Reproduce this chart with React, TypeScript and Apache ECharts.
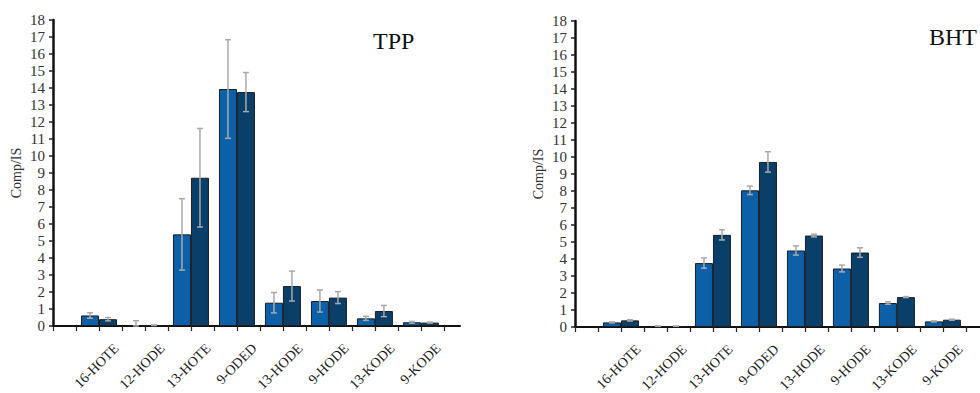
import React, { useEffect, useRef } from "react";
import * as echarts from "echarts";

const categories = ["16-HOTE", "12-HODE", "13-HOTE", "9-ODED", "13-HODE", "9-HODE", "13-KODE", "9-KODE"];
const yTickValues = [0, 18, 1];

const tppLight = [0.62, 0.05, 5.39, 13.94, 1.37, 1.47, 0.45, 0.22];
const tppLightErr = [0.16, 0.26, 2.1, 2.9, 0.6, 0.65, 0.12, 0.05];
const tppDark = [0.4, 0.05, 8.72, 13.76, 2.35, 1.67, 0.88, 0.2];
const tppDarkErr = [0.1, 0.02, 2.9, 1.15, 0.88, 0.35, 0.33, 0.03];

const bhtLight = [0.27, 0.05, 3.76, 8.04, 4.5, 3.44, 1.41, 0.33];
const bhtLightErr = [0.03, 0.01, 0.3, 0.25, 0.27, 0.2, 0.07, 0.03];
const bhtDark = [0.39, 0.05, 5.42, 9.71, 5.38, 4.38, 1.76, 0.43];
const bhtDarkErr = [0.04, 0.01, 0.3, 0.6, 0.08, 0.28, 0.03, 0.03];

const panelTitles = ["TPP", "BHT"];

const LIGHT = "#0b60a8";
const DARK = "#0a3f6a";
const SERIF = "'Liberation Serif', 'DejaVu Serif', serif";
const LABEL_SHIFT = 0.38;

const xPositions = categories.map((_, i) => i + 1);

function makeXAxis(gridIndex: number) {
  const tickVals: number[] = [];
  for (let v = 0; v <= 8.5; v += 0.5) tickVals.push(v);
  return {
    type: "value",
    gridIndex,
    min: 0,
    max: 8.85,
    interval: 1,
    axisLine: { show: true, onZero: false, lineStyle: { color: "#111", width: 2 } },
    axisTick: { show: true, length: 5, customValues: tickVals, lineStyle: { color: "#222", width: 1.2 } },
    splitLine: { show: false },
    axisLabel: {
      show: true,
      customValues: xPositions.map((p) => p + LABEL_SHIFT),
      rotate: 45,
      margin: 20,
      fontSize: 14,
      fontFamily: SERIF,
      color: "#1a1a1a",
      formatter: (v: number) => {
        const i = Math.round(v - LABEL_SHIFT) - 1;
        return categories[i] ?? "";
      },
    },
  };
}

function makeYAxis(gridIndex: number) {
  return {
    type: "value",
    gridIndex,
    min: yTickValues[0],
    max: yTickValues[1],
    interval: yTickValues[2],
    name: "Comp/IS",
    nameLocation: "middle",
    nameGap: 30,
    nameTextStyle: { fontSize: 14, fontFamily: SERIF, color: "#333" },
    axisLine: { show: true, lineStyle: { color: "#111", width: 2.5 } },
    axisTick: { show: true, length: 4, lineStyle: { color: "#222", width: 1.5 } },
    splitLine: { show: false },
    axisLabel: { fontSize: 15, fontFamily: SERIF, color: "#333", margin: 8 },
  };
}

function barSeries(idx: number, values: number[], color: string) {
  return {
    type: "bar",
    xAxisIndex: idx,
    yAxisIndex: idx,
    data: values.map((v, i) => [xPositions[i], v]),
    barWidth: 18,
    barGap: "0%",
    itemStyle: { color, borderColor: "#1a1f26", borderWidth: 1 },
    z: 2,
  };
}

function errSeries(idx: number, values: number[], errs: number[], offset: number) {
  return {
    type: "custom",
    xAxisIndex: idx,
    yAxisIndex: idx,
    z: 5,
    data: values.map((v, i) => [xPositions[i], v, errs[i], offset]),
    renderItem: (_params: any, api: any) => {
      const x = api.value(0);
      const y = api.value(1);
      const e = api.value(2);
      const off = api.value(3);
      const top = api.coord([x, y + e]);
      const bot = api.coord([x, Math.max(0, y - e)]);
      const cx = top[0] + off;
      const cap = 3;
      const style = { stroke: "#a9a9a9", lineWidth: 1.5 };
      return {
        type: "group",
        children: [
          { type: "line", shape: { x1: cx, y1: top[1], x2: cx, y2: bot[1] }, style },
          { type: "line", shape: { x1: cx - cap, y1: top[1], x2: cx + cap, y2: top[1] }, style },
          { type: "line", shape: { x1: cx - cap, y1: bot[1], x2: cx + cap, y2: bot[1] }, style },
        ],
      };
    },
  };
}

export default function App() {
  const ref = useRef<HTMLDivElement>(null);
  useEffect(() => {
    if (!ref.current) return;
    const chart = echarts.init(ref.current, null, { renderer: "svg" });
    chart.setOption({
      animation: false,
      backgroundColor: "#ffffff",
      title: [
        { text: panelTitles[0], left: 368, top: 24, textStyle: { fontFamily: SERIF, fontSize: 24, fontWeight: "normal", color: "#111" } },
        { text: panelTitles[1], left: 924, top: 20, textStyle: { fontFamily: SERIF, fontSize: 24, fontWeight: "normal", color: "#111" } },
      ],
      grid: [
        { left: 53, top: 20, width: 407, height: 306, outerBoundsMode: "none", containLabel: false },
        { left: 575, top: 21, width: 407, height: 306, outerBoundsMode: "none", containLabel: false },
      ],
      xAxis: [makeXAxis(0), makeXAxis(1)],
      yAxis: [makeYAxis(0), makeYAxis(1)],
      series: [
        barSeries(0, tppLight, LIGHT),
        barSeries(0, tppDark, DARK),
        errSeries(0, tppLight, tppLightErr, -9),
        errSeries(0, tppDark, tppDarkErr, 9),
        barSeries(1, bhtLight, LIGHT),
        barSeries(1, bhtDark, DARK),
        errSeries(1, bhtLight, bhtLightErr, -9),
        errSeries(1, bhtDark, bhtDarkErr, 9),
      ],
    });
    return () => chart.dispose();
  }, []);
  return <div ref={ref} style={{ position: "fixed", left: 0, top: 0, width: 980, height: 393 }} />;
}
